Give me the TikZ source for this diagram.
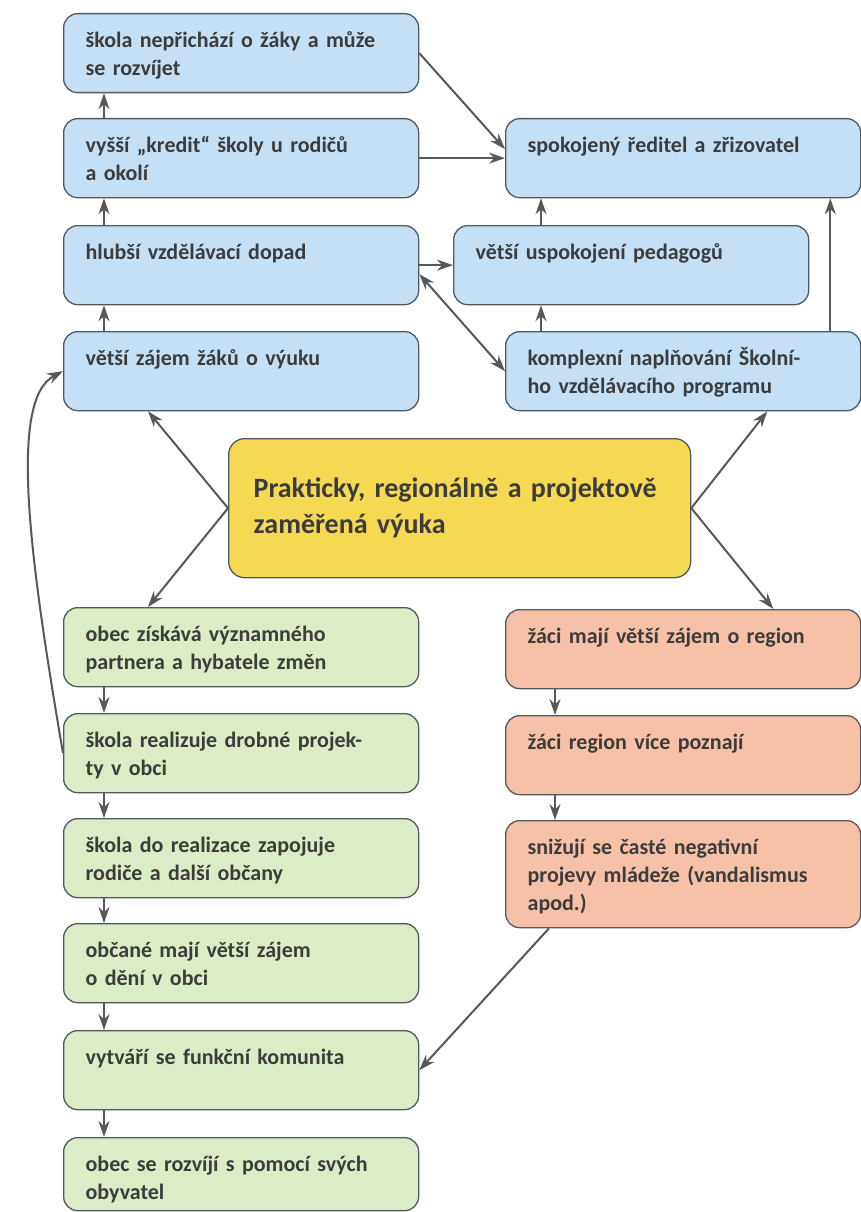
\documentclass[tikz,border=0pt]{standalone}
\usepackage{fontspec}
\setmainfont{Carlito}
\usetikzlibrary{arrows.meta}

\definecolor{modra}{RGB}{197,224,245}
\definecolor{zelena}{RGB}{220,236,198}
\definecolor{oranz}{RGB}{247,193,168}
\definecolor{zluta}{RGB}{246,217,82}
\definecolor{ramecek}{RGB}{80,88,96}
\definecolor{sipka}{RGB}{88,88,88}
\definecolor{pismo}{RGB}{60,60,60}

\tikzset{
    box/.style={draw=ramecek, line width=1.3pt, rounded corners=14pt, anchor=north west,
        text width=311pt, inner xsep=22pt, inner ysep=0pt, text height=34pt, text depth=#1,
        align=left, text=pismo, font=\fontsize{22}{28}\selectfont\bfseries},
    box/.default=45pt,
    mid/.style={draw=ramecek, line width=1.3pt, rounded corners=16pt, anchor=north west,
        fill=zluta, text width=412pt, inner xsep=25pt, minimum height=139pt,
        align=left, text=pismo, font=\fontsize{28}{36}\selectfont\bfseries},
    arr/.style={draw=sipka, line width=2pt, -{Stealth[length=16pt,width=11pt]}},
    arr2/.style={arr, {Stealth[length=16pt,width=11pt]}-{Stealth[length=16pt,width=11pt]}},
}

\begin{document}
\begin{tikzpicture}[x=1pt,y=-1pt]
    \fill[white] (0,0) rectangle (861,1212);
    \useasboundingbox (0,0) rectangle (861,1212);

    % horni cast
    \node[box,fill=modra] (b1) at (63,13) {škola nepřichází o žáky a může\\se rozvíjet};
    \node[box,fill=modra] (b2) at (63,118) {vyšší „kredit“ školy u rodičů\\a okolí};
    \node[box,fill=modra] (b3) at (63,225) {hlubší vzdělávací dopad};
    \node[box,fill=modra] (b4) at (63,331) {větší zájem žáků o výuku};
    \node[box,fill=modra] (s) at (505,118) {spokojený ředitel a zřizovatel};
    \node[box,fill=modra] (u) at (453,225) {větší uspokojení pedagogů};
    \node[box,fill=modra] (k) at (505,331) {komplexní naplňování Školní-\\ho vzdělávacího programu};

    \node[mid] (c) at (228,438) {Prakticky, regionálně a projektově\\zaměřená výuka};

    % dolni cast
    \node[box,fill=zelena] (g1) at (63,607) {obec získává významného\\partnera a hybatele změn};
    \node[box,fill=zelena] (g2) at (63,713) {škola realizuje drobné projek-\\ty v obci};
    \node[box,fill=zelena] (g3) at (63,818) {škola do realizace zapojuje\\rodiče a další občany};
    \node[box,fill=zelena] (g4) at (63,923) {občané mají větší zájem\\o dění v obci};
    \node[box,fill=zelena] (g5) at (63,1030) {vytváří se funkční komunita};
    \node[box=39pt,fill=zelena] (g6) at (63,1137) {obec se rozvíjí s pomocí svých\\obyvatel};
    \node[box,fill=oranz] (o1) at (505,609) {žáci mají větší zájem o region};
    \node[box,fill=oranz] (o2) at (505,715) {žáci region více poznají};
    \node[box=73pt,fill=oranz] (o3) at (505,820) {snižují se časté negativní\\projevy mládeže (vandalismus\\apod.)};

    \foreach \a/\b in {b4/b3,b3/b2,b2/b1}
        \draw [arr] ([xshift=41pt]\a.north west) -- ([xshift=41pt]\b.south west);
    \foreach \a/\b in {g1/g2,g2/g3,g3/g4,g4/g5,g5/g6}
        \draw [arr] ([xshift=41pt]\a.south west) -- ([xshift=41pt]\b.north west);
    \foreach \a/\b in {o1/o2,o2/o3}
        \draw [arr] ([xshift=50pt]\a.south west) -- ([xshift=50pt]\b.north west);

    \draw [arr] (b1.east) -- ([yshift=9pt]s.west);
    \draw [arr] (b2.east) -- (s.west);
    \draw [arr] (b3.east) -- (u.west);
    \draw [arr2] ([yshift=-9pt]b3.east) -- (k.west);
    \draw [arr] ([xshift=88pt]u.north west) -- ([xshift=36pt]s.south west);
    \draw [arr] ([xshift=36pt]k.north west) -- ([xshift=88pt]u.south west);
    \draw [arr] ([xshift=-31pt]k.north east) -- ([xshift=-31pt]s.south east);

    \draw [arr] (c.west) -- ([xshift=85pt]b4.south west);
    \draw [arr] (c.west) -- ([xshift=85pt]g1.north west);
    \draw [arr] (c.east) -- ([xshift=-94pt]k.south east);
    \draw [arr] (c.east) -- ([xshift=-88pt]o1.north east);

    \draw [arr] ([xshift=44pt]o3.south west) -- (g5.east);
    \draw [arr] (g2.west) .. controls (30,560) and (8,400) .. (b4.west);
\end{tikzpicture}
\end{document}
